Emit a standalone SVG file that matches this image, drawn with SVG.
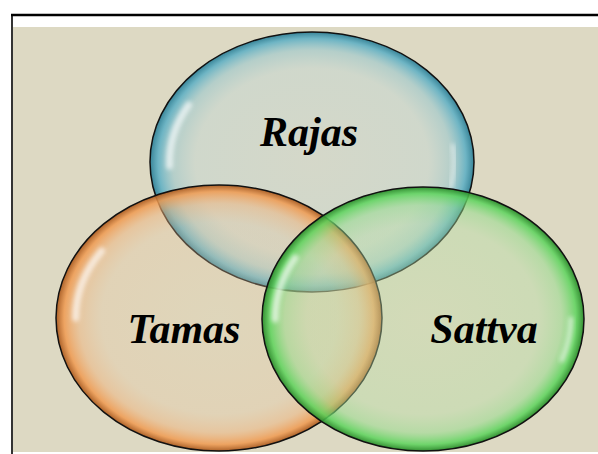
<svg xmlns="http://www.w3.org/2000/svg" width="598" height="454" viewBox="0 0 598 454">
<style>
.lbl{font-family:"Liberation Serif","Times New Roman",serif;font-weight:bold;font-style:italic;font-size:42px;fill:#000;text-anchor:middle}
.rim{fill:none;stroke:#111;stroke-width:1.5}
.hl{fill:none;stroke:#fff;stroke-linecap:round;filter:url(#blur)}
</style>
<defs>
<filter id="blur" x="-50%" y="-50%" width="200%" height="200%"><feGaussianBlur stdDeviation="2"/></filter>
<radialGradient id="gB" cx="0.5" cy="0.5" r="0.5">
<stop offset="0" stop-color="#c8d6d2" stop-opacity="0.4"/>
<stop offset="0.72" stop-color="#bcd6d8" stop-opacity="0.4"/>
<stop offset="0.86" stop-color="#8cc4d0" stop-opacity="0.5"/>
<stop offset="0.95" stop-color="#5aaec4" stop-opacity="0.85"/>
<stop offset="1" stop-color="#2f7f95" stop-opacity="0.95"/>
</radialGradient>
<radialGradient id="gO" cx="0.5" cy="0.5" r="0.5">
<stop offset="0" stop-color="#e2cfa8" stop-opacity="0.3"/>
<stop offset="0.72" stop-color="#eac49a" stop-opacity="0.3"/>
<stop offset="0.86" stop-color="#f0b27a" stop-opacity="0.5"/>
<stop offset="0.95" stop-color="#f09a50" stop-opacity="0.85"/>
<stop offset="1" stop-color="#a85a20" stop-opacity="0.95"/>
</radialGradient>
<radialGradient id="gG" cx="0.5" cy="0.5" r="0.5">
<stop offset="0" stop-color="#c4dca8" stop-opacity="0.4"/>
<stop offset="0.72" stop-color="#b4dea2" stop-opacity="0.4"/>
<stop offset="0.86" stop-color="#90dc88" stop-opacity="0.5"/>
<stop offset="0.95" stop-color="#5cd45c" stop-opacity="0.85"/>
<stop offset="1" stop-color="#2a8a2a" stop-opacity="0.95"/>
</radialGradient>
</defs>
<rect x="0" y="0" width="598" height="454" fill="#fff"/>
<rect x="13" y="27" width="585" height="425" fill="#ddd9c3"/>
<line x1="11" y1="15" x2="598" y2="15" stroke="#000" stroke-width="2.4"/>
<line x1="12" y1="14" x2="12" y2="454" stroke="#000" stroke-width="1.6"/>

<g id="rajas">
<ellipse cx="312" cy="162" rx="162" ry="130" fill="url(#gB)"/>
<ellipse class="rim" cx="312" cy="162" rx="162" ry="130"/>
<path class="hl" d="M 188.5 105 A 142.6 114.4 0 0 0 169.5 166" stroke-width="7" opacity="0.65"/>
<path class="hl" d="M 453 146 A 142.6 114.4 0 0 1 451 186" stroke-width="5" opacity="0.45"/>
</g>
<g id="tamas">
<ellipse cx="219" cy="318" rx="163" ry="133" fill="url(#gO)"/>
<ellipse class="rim" cx="219" cy="318" rx="163" ry="133"/>
<path class="hl" d="M 101.5 251 A 143.4 117 0 0 0 75.6 318" stroke-width="7" opacity="0.65"/>
</g>
<g id="sattva">
<ellipse cx="423" cy="319" rx="161" ry="132" fill="url(#gG)"/>
<ellipse class="rim" cx="423" cy="319" rx="161" ry="132"/>
<path class="hl" d="M 295 258 A 148 121.4 0 0 0 275 319" stroke-width="7" opacity="0.65"/>
<path class="hl" d="M 571 319 A 148 121.4 0 0 1 562 360" stroke-width="5" opacity="0.55"/>
</g>

<text class="lbl" x="309" y="146">Rajas</text>
<text class="lbl" x="184" y="343">Tamas</text>
<text class="lbl" x="484" y="343">Sattva</text>
</svg>
